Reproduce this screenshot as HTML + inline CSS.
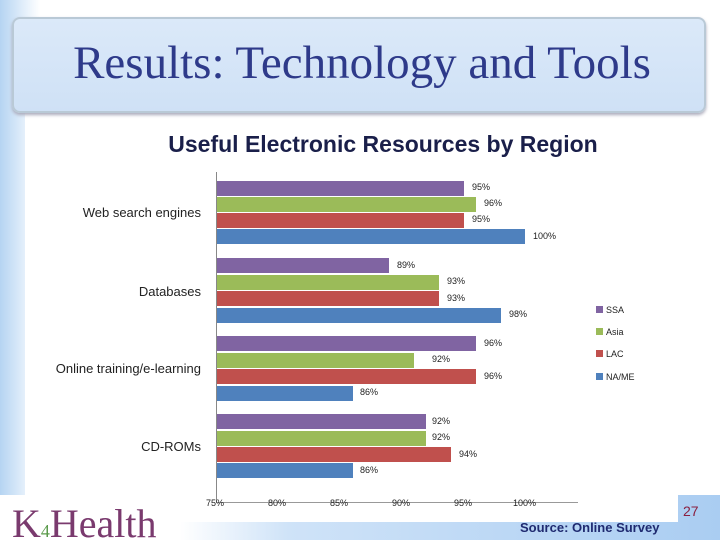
<!DOCTYPE html>
<html><head><meta charset="utf-8"><style>
body{margin:0;width:720px;height:540px;overflow:hidden;background:#fff;position:relative;font-family:"Liberation Sans",sans-serif}
.abs{position:absolute}
.lbl{position:absolute;font-size:13px;color:#222;text-align:right;width:200px;left:1px}
.v{position:absolute;font-size:9px;color:#222}
.bar{position:absolute;left:217px;height:15px}
</style></head><body>
<div class="abs" style="left:0;top:0;width:40px;height:540px;background:linear-gradient(90deg,#b5d4f2,#eaf3fc 70%,#fff)"></div>
<div class="abs" style="left:25px;top:0;width:80px;height:540px;background:#fff;border-radius:80px 0 0 0"></div>
<div class="abs" style="left:0;top:495px;width:720px;height:45px;background:linear-gradient(90deg,#fff 25%,#cfe3f8 40%,#aacdf2)"></div>
<div class="abs" style="left:12px;top:17px;width:690px;height:92px;background:linear-gradient(#dbe9f9,#cfe1f6);border:2px solid #b9c9d6;border-radius:8px;box-shadow:0 2px 3px #aab"></div>
<div class="abs" style="left:12px;top:36px;width:700px;text-align:center;font-family:'Liberation Serif',serif;font-size:47px;color:#2e3a8a">Results: Technology and Tools</div>
<div class="abs" style="left:83px;top:131px;width:600px;text-align:center;font-weight:bold;font-size:23px;color:#1a1f4a">Useful Electronic Resources by Region</div>
<div class="abs" style="left:30px;top:163px;width:648px;height:359px;background:#fff"></div>
<div class="abs" style="left:216px;top:172px;width:1px;height:331px;background:#888"></div>
<div class="abs" style="left:216px;top:502px;width:362px;height:1px;background:#999"></div>
<div class="lbl" style="top:205px">Web search engines</div>
<div class="lbl" style="top:284px">Databases</div>
<div class="lbl" style="top:361px">Online training/e-learning</div>
<div class="lbl" style="top:439px">CD-ROMs</div>

<div class="bar" style="top:181px;width:247px;background:#8064A2"></div><div class="v" style="left:472px;top:182px">95%</div>
<div class="bar" style="top:197px;width:259px;background:#9BBB59"></div><div class="v" style="left:484px;top:198px">96%</div>
<div class="bar" style="top:213px;width:247px;background:#C0504D"></div><div class="v" style="left:472px;top:214px">95%</div>
<div class="bar" style="top:229px;width:308px;background:#4F81BD"></div><div class="v" style="left:533px;top:231px">100%</div>

<div class="bar" style="top:258px;width:172px;background:#8064A2"></div><div class="v" style="left:397px;top:260px">89%</div>
<div class="bar" style="top:275px;width:222px;background:#9BBB59"></div><div class="v" style="left:447px;top:276px">93%</div>
<div class="bar" style="top:291px;width:222px;background:#C0504D"></div><div class="v" style="left:447px;top:293px">93%</div>
<div class="bar" style="top:308px;width:284px;background:#4F81BD"></div><div class="v" style="left:509px;top:309px">98%</div>

<div class="bar" style="top:336px;width:259px;background:#8064A2"></div><div class="v" style="left:484px;top:338px">96%</div>
<div class="bar" style="top:353px;width:197px;background:#9BBB59"></div><div class="v" style="left:432px;top:354px">92%</div>
<div class="bar" style="top:369px;width:259px;background:#C0504D"></div><div class="v" style="left:484px;top:371px">96%</div>
<div class="bar" style="top:386px;width:136px;background:#4F81BD"></div><div class="v" style="left:360px;top:387px">86%</div>

<div class="bar" style="top:414px;width:209px;background:#8064A2"></div><div class="v" style="left:432px;top:416px">92%</div>
<div class="bar" style="top:431px;width:209px;background:#9BBB59"></div><div class="v" style="left:432px;top:432px">92%</div>
<div class="bar" style="top:447px;width:234px;background:#C0504D"></div><div class="v" style="left:459px;top:449px">94%</div>
<div class="bar" style="top:463px;width:136px;background:#4F81BD"></div><div class="v" style="left:360px;top:465px">86%</div>

<div class="v" style="left:206px;top:498px">75%</div>
<div class="v" style="left:268px;top:498px">80%</div>
<div class="v" style="left:330px;top:498px">85%</div>
<div class="v" style="left:392px;top:498px">90%</div>
<div class="v" style="left:454px;top:498px">95%</div>
<div class="v" style="left:513px;top:498px">100%</div>

<div class="abs" style="left:596px;top:306px;width:7px;height:7px;background:#8064A2"></div><div class="v" style="left:606px;top:305px;font-size:9px">SSA</div>
<div class="abs" style="left:596px;top:328px;width:7px;height:7px;background:#9BBB59"></div><div class="v" style="left:606px;top:327px;font-size:9px">Asia</div>
<div class="abs" style="left:596px;top:350px;width:7px;height:7px;background:#C0504D"></div><div class="v" style="left:606px;top:349px;font-size:9px">LAC</div>
<div class="abs" style="left:596px;top:373px;width:7px;height:7px;background:#4F81BD"></div><div class="v" style="left:606px;top:372px;font-size:9px">NA/ME</div>

<div class="abs" style="left:12px;top:504px;font-family:'Liberation Serif',serif;font-size:40px;color:#7a3a6e;line-height:40px;height:36px;overflow:hidden">K<span style="color:#5a9a4a;font-size:18px">4</span>Health</div>
<div class="abs" style="left:683px;top:503px;font-size:14px;color:#8a2040">27</div>
<div class="abs" style="left:520px;top:520px;font-size:13px;font-weight:bold;color:#1f2a70">Source: Online Survey</div>
</body></html>
